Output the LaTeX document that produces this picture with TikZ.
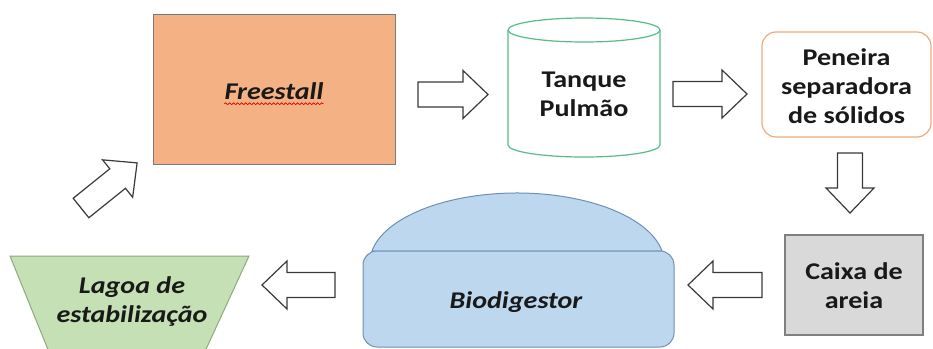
\documentclass[tikz,border=0pt]{standalone}
\usepackage{fontspec}
\setmainfont{Carlito}[FakeStretch=1.17]
\usetikzlibrary{decorations.pathmorphing}
\definecolor{fsfill}{HTML}{F4B183}
\definecolor{fsdraw}{HTML}{7A7A7A}
\definecolor{tqdraw}{HTML}{55BC8C}
\definecolor{pendraw}{HTML}{EFAA7C}
\definecolor{cxfill}{HTML}{D9D9D9}
\definecolor{cxdraw}{HTML}{808080}
\definecolor{biofill}{HTML}{BDD7EE}
\definecolor{biodraw}{HTML}{6F8FB5}
\definecolor{lgfill}{HTML}{C5E0B4}
\definecolor{lgdraw}{HTML}{8FAA7F}
\definecolor{arrdraw}{HTML}{3A3A3A}
\tikzset{
  lbl/.style={font=\fontsize{24}{29}\selectfont\bfseries, align=center, text=black!90, inner sep=0pt},
  lblit/.style={lbl, font=\fontsize{24}{29}\selectfont\bfseries\itshape},
  fsbox/.style={draw=fsdraw, fill=fsfill, line width=1pt, minimum width=242pt, minimum height=150pt, inner sep=0pt},
  penbox/.style={draw=pendraw, fill=white, line width=1.2pt, rounded corners=14pt, minimum width=169pt, minimum height=105pt, inner sep=0pt},
  cxbox/.style={draw=cxdraw, fill=cxfill, line width=1.2pt, minimum width=138pt, minimum height=100pt, inner sep=0pt},
  cylsty/.style={draw=tqdraw, fill=white, line width=1.2pt},
  biosty/.style={draw=biodraw, fill=biofill, line width=1pt},
  lgsty/.style={draw=lgdraw, fill=lgfill, line width=1pt},
  arrsty/.style={draw=arrdraw, fill=white, line width=1.2pt, line join=miter},
  squig/.style={draw=red!85!black, line width=0.7pt, decorate, decoration={snake, amplitude=0.9pt, segment length=4pt}},
  pics/barrow/.style={code={
    \path[arrsty] (0,-12.5) -- ({#1-25},-12.5) -- ({#1-25},-24) -- (#1,0) -- ({#1-25},24) -- ({#1-25},12.5) -- (0,12.5) -- cycle;
  }}
}
\begin{document}
\begin{tikzpicture}[x=1pt, y=-1pt]
\useasboundingbox (0,0) rectangle (933,348);
\clip (0,0) rectangle (933,348);

% Freestall
\node[fsbox] (fs) at (274,89) {};
\node[lblit] (fstxt) at (274,91) {Freestall};
\draw[squig] ([yshift=-4pt]fstxt.south west) -- ([yshift=-4pt]fstxt.south east);

% Tanque Pulmao (cylinder)
\path[cylsty] (508,30) -- (508,145) arc[start angle=180, end angle=360, x radius=76pt, y radius=12pt] -- (660,30) arc[start angle=0, end angle=180, x radius=76pt, y radius=12pt] -- cycle;
\draw[cylsty, fill=none] (508,30) arc[start angle=180, end angle=360, x radius=76pt, y radius=12pt];
\node[lbl] (tq) at (584,94) {Tanque\\Pulmão};

% Peneira
\node[penbox] (pen) at (846.5,84.5) {};
\node[lbl] (pentxt) at (846.5,86) {Peneira\\separadora\\de sólidos};

% Caixa de areia
\node[cxbox] (cx) at (854,285) {};
\node[lbl] (cxtxt) at (854,286) {Caixa de\\areia};

% Biodigestor
\path[biosty] (662,251) arc[start angle=9.87, end angle=170.13, x radius=147.2pt, y radius=70pt] -- cycle;
\path[biosty, rounded corners=14pt] (363,251) rectangle (674,347);
\node[lblit] (bio) at (516,302) {Biodigestor};

% Lagoa
\path[lgsty] (10,256) -- (249,256) -- (204.7,352) -- (49,352) -- cycle;
\node[lblit] (lg) at (132,302) {Lagoa de\\estabilização};

% block arrows
\pic at (418,94.5) {barrow=70};
\pic at (673,94) {barrow=74};
\pic[rotate=-90] at (850,153) {barrow=60};
\pic[rotate=180] at (762,285) {barrow=74};
\pic[rotate=180] at (335,285) {barrow=73};
\pic[rotate=38.8] at (81,208) {barrow=72};
\end{tikzpicture}
\end{document}
